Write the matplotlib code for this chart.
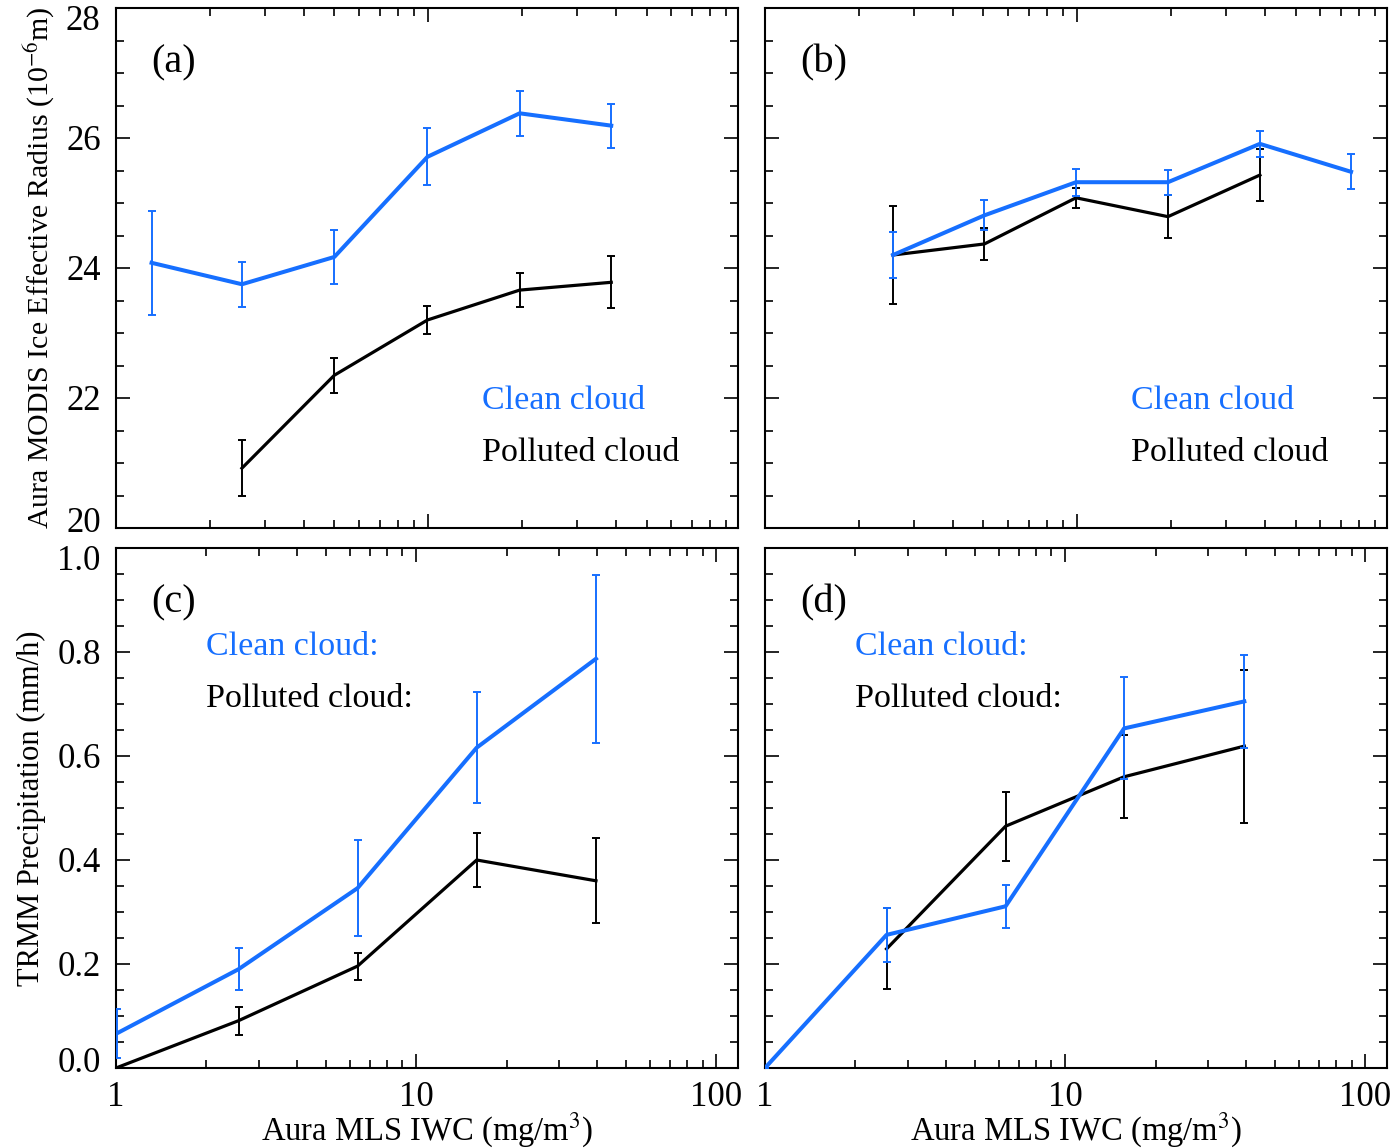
import matplotlib
matplotlib.use("Agg")
import matplotlib.pyplot as plt
import matplotlib.transforms as mtrans
import numpy as np
from matplotlib.ticker import MultipleLocator, LogLocator, NullFormatter, FixedLocator, FixedFormatter

plt.rcParams['font.family'] = ['Liberation Serif', 'DejaVu Serif']
plt.rcParams['mathtext.fontset'] = 'stix'

BLUE = '#166fff'
BLACK = '#000000'

# ---- panel (a): ice effective radius, clean vs polluted ----
a_clean_x = [1.30, 2.53, 5.0, 9.93, 19.6, 38.5]
a_clean_y = [24.08, 23.75, 24.17, 25.71, 26.38, 26.19]
a_clean_err = [0.80, 0.35, 0.42, 0.44, 0.35, 0.34]
a_poll_x = [2.53, 5.0, 9.93, 19.6, 38.5]
a_poll_y = [20.92, 22.35, 23.20, 23.66, 23.78]
a_poll_err = [0.43, 0.27, 0.22, 0.26, 0.40]

# ---- panel (b) ----
b_clean_x = [2.57, 5.04, 9.9, 19.5, 38.4, 75.2]
b_clean_y = [24.20, 24.81, 25.32, 25.32, 25.91, 25.48]
b_clean_err = [0.36, 0.23, 0.21, 0.19, 0.20, 0.27]
b_poll_x = [2.57, 5.04, 9.9, 19.5, 38.4]
b_poll_y = [24.20, 24.37, 25.08, 24.79, 25.43]
b_poll_err = [0.75, 0.25, 0.15, 0.33, 0.40]

# ---- panel (c): TRMM precipitation ----
c_clean_x = [1.01, 2.56, 6.38, 15.9, 39.7]
c_clean_y = [0.067, 0.190, 0.346, 0.616, 0.787]
c_clean_err = [0.047, 0.040, 0.093, 0.107, 0.162]
c_poll_x = [1.0, 2.56, 6.38, 15.9, 39.7]
c_poll_y = [0.0, 0.091, 0.196, 0.400, 0.360]
c_poll_err = [0.0, 0.027, 0.026, 0.051, 0.082]

# ---- panel (d) ----
d_clean_x = [1.0, 2.54, 6.33, 15.7, 39.5]
d_clean_y = [0.0, 0.256, 0.311, 0.653, 0.705]
d_clean_err = [0.0, 0.052, 0.041, 0.098, 0.090]
d_poll_x = [2.54, 6.33, 15.7, 39.5]
d_poll_y = [0.229, 0.465, 0.560, 0.619]
d_poll_err = [0.078, 0.066, 0.080, 0.147]

W, H = 1398, 1148
fig = plt.figure(figsize=(W / 100, H / 100), dpi=100)


def box(l, t, r, b):
    return [l / W, (H - b) / H, (r - l) / W, (b - t) / H]


def style(ax, top):
    ax.set_xscale('log')
    ax.tick_params(which='both', direction='in', top=True, right=True, width=1.2)
    ax.tick_params(which='major', length=10, labelsize=25, pad=11)
    ax.tick_params(axis='x', which='major', pad=9)
    ax.tick_params(which='minor', length=6)
    for s in ax.spines.values():
        s.set_linewidth(1.5)
    ax.xaxis.set_major_locator(FixedLocator([1, 10, 100]))
    ax.xaxis.set_minor_locator(LogLocator(base=10, subs=np.arange(2, 10)))
    ax.xaxis.set_minor_formatter(NullFormatter())
    if top:
        ax.set_xlim(1, 98)
        ax.set_ylim(20, 28)
        ax.yaxis.set_major_locator(FixedLocator([20, 22, 24, 26, 28]))
        ax.yaxis.set_minor_locator(MultipleLocator(0.5))
        ax.xaxis.set_major_formatter(NullFormatter())
    else:
        ax.set_xlim(1, 118)
        ax.set_ylim(0, 1.0)
        ax.yaxis.set_major_locator(FixedLocator([0, 0.2, 0.4, 0.6, 0.8, 1.0]))
        ax.yaxis.set_minor_locator(MultipleLocator(0.05))
        ax.xaxis.set_major_formatter(FixedFormatter(['1', '10', '100']))
        ax.yaxis.set_major_formatter(plt.FuncFormatter(lambda v, p: f'{v:.1f}'))
        ax.set_xlabel(r'Aura MLS IWC (mg/m$^3$)', fontsize=23.5, labelpad=-2)


def series(ax, x, y, e, color, lw):
    ax.plot(x, y, color=color, lw=lw, zorder=3)
    ax.errorbar(x, y, yerr=e, fmt='none', ecolor=color, elinewidth=1.4,
                capsize=3, capthick=1.4, zorder=3)


ax_a = fig.add_axes(box(116, 8, 738, 528))
ax_b = fig.add_axes(box(765, 8, 1387, 528))
ax_c = fig.add_axes(box(116, 548, 738, 1068))
ax_d = fig.add_axes(box(765, 548, 1387, 1068))

for ax in (ax_a, ax_b):
    style(ax, True)
for ax in (ax_c, ax_d):
    style(ax, False)

ax_b.yaxis.set_major_formatter(NullFormatter())
ax_d.yaxis.set_major_formatter(NullFormatter())

series(ax_a, a_poll_x, a_poll_y, a_poll_err, BLACK, 2.3)
series(ax_a, a_clean_x, a_clean_y, a_clean_err, BLUE, 2.9)
series(ax_b, b_poll_x, b_poll_y, b_poll_err, BLACK, 2.3)
series(ax_b, b_clean_x, b_clean_y, b_clean_err, BLUE, 2.9)
series(ax_c, c_poll_x, c_poll_y, c_poll_err, BLACK, 2.3)
series(ax_c, c_clean_x, c_clean_y, c_clean_err, BLUE, 2.9)
series(ax_d, d_poll_x, d_poll_y, d_poll_err, BLACK, 2.3)
series(ax_d, d_clean_x, d_clean_y, d_clean_err, BLUE, 2.9)

ax_a.set_ylabel(r'Aura MODIS Ice Effective Radius (10$^{-6}$m)', fontsize=21.5)
ax_a.yaxis.set_label_coords(-0.095, 0.5)
ax_c.set_ylabel('TRMM Precipitation (mm/h)', fontsize=22)
ax_c.yaxis.set_label_coords(-0.112, 0.5)

# end labels pulled inward (~9 px) so 20 and 1.0 do not collide
for ax in (ax_a, ax_c):
    ticks = ax.yaxis.get_major_ticks()
    up = mtrans.ScaledTranslation(0, 0.09, fig.dpi_scale_trans)
    down = mtrans.ScaledTranslation(0, -0.09, fig.dpi_scale_trans)
    ticks[0].label1.set_transform(ticks[0].label1.get_transform() + up)
    ticks[-1].label1.set_transform(ticks[-1].label1.get_transform() + down)

for ax, tag in ((ax_a, '(a)'), (ax_b, '(b)'), (ax_c, '(c)'), (ax_d, '(d)')):
    ax.text(0.056, 0.895, tag, transform=ax.transAxes, fontsize=29, va='center')

for ax in (ax_a, ax_b):
    ax.text(0.588, 0.245, 'Clean cloud', color=BLUE, transform=ax.transAxes, fontsize=24.5, va='center')
    ax.text(0.588, 0.145, 'Polluted cloud', color=BLACK, transform=ax.transAxes, fontsize=24.5, va='center')
for ax in (ax_c, ax_d):
    ax.text(0.145, 0.81, 'Clean cloud:', color=BLUE, transform=ax.transAxes, fontsize=24.5, va='center')
    ax.text(0.145, 0.71, 'Polluted cloud:', color=BLACK, transform=ax.transAxes, fontsize=24.5, va='center')

fig.savefig('out.png', dpi=100)
